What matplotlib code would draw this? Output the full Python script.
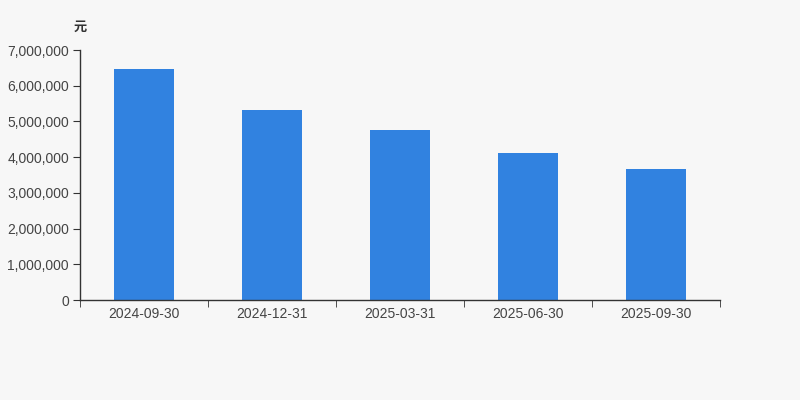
import matplotlib.pyplot as plt
from matplotlib.ticker import FuncFormatter

# data
dates = ['2024-09-30', '2024-12-31', '2025-03-31', '2025-06-30', '2025-09-30']
values = [6480000, 5310000, 4750000, 4110000, 3680000]

bg = '#f7f7f7'
bar_color = '#3182e0'

plt.rcParams['font.family'] = ['Liberation Sans', 'Noto Sans CJK SC']

fig = plt.figure(figsize=(8, 4), dpi=100, facecolor=bg)
ax = fig.add_axes([0.1, 0.25, 0.8, 0.625])
ax.set_facecolor(bg)

x = range(len(dates))
ax.bar(x, values, width=0.47, color=bar_color)

ax.set_xlim(-0.5, len(dates) - 0.5)
ax.set_ylim(0, 7000000)
ax.set_yticks(range(0, 7000001, 1000000))
ax.yaxis.set_major_formatter(FuncFormatter(lambda v, p: f'{int(v):,}'))

ax.set_xticks(list(x))
ax.set_xticklabels(dates)
ax.set_xticks([i - 0.5 for i in range(len(dates) + 1)], minor=True)
ax.tick_params(axis='x', which='major', length=0, pad=5, labelsize=10, labelcolor='#444')
ax.tick_params(axis='x', which='minor', length=5, color='#333')
ax.tick_params(axis='y', length=5, color='#333', pad=3, labelsize=10, labelcolor='#444')

for s in ['top', 'right']:
    ax.spines[s].set_visible(False)
for s in ['left', 'bottom']:
    ax.spines[s].set_color('#333')
    ax.spines[s].set_linewidth(1)

fig.text(0.092, 0.932, '元', fontsize=9.5, fontweight='bold', color='#333',
         family=['Noto Sans CJK SC', 'DejaVu Sans'], ha='left', va='center')

fig.savefig('out.png', dpi=100, facecolor=bg)
